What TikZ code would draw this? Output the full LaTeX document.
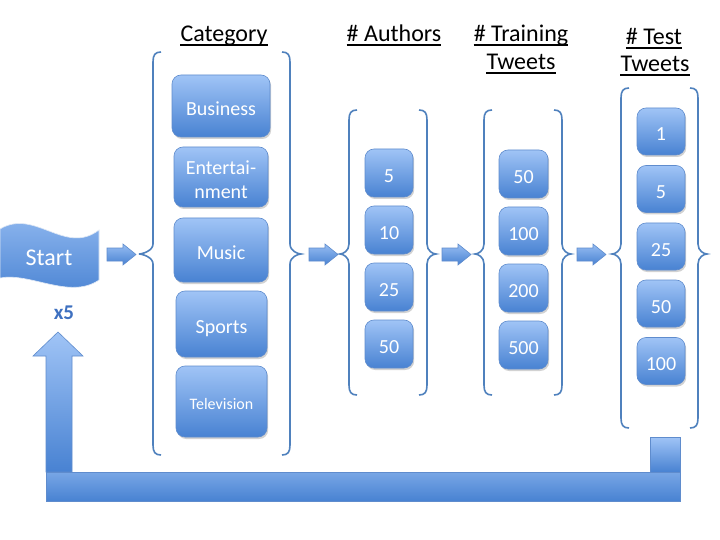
\documentclass[tikz,border=0pt]{standalone}
\usepackage{fontspec}
\setmainfont{Carlito}
\usetikzlibrary{shadows}
\definecolor{boxtop}{RGB}{160,196,246}
\definecolor{boxbot}{RGB}{72,130,210}
\definecolor{boxline}{RGB}{95,140,205}
\definecolor{bracec}{RGB}{79,129,189}
\definecolor{xfive}{RGB}{62,112,192}
\newcommand\mybrL[5]{% L P T B M
  \draw[bracestyle] (#1+8,#3) .. controls (#1+2,#3) and (#1,#3+3) .. (#1,#3+10) -- (#1,#5-10)
    .. controls (#1,#5-3) and (#2+3,#5) .. (#2,#5) .. controls (#2+3,#5) and (#1,#5+3) .. (#1,#5+10)
    -- (#1,#4-10) .. controls (#1,#4-3) and (#1+2,#4) .. (#1+8,#4);}
\newcommand\mybrR[5]{% R Q T B M
  \draw[bracestyle] (#1-8,#3) .. controls (#1-2,#3) and (#1,#3+3) .. (#1,#3+10) -- (#1,#5-10)
    .. controls (#1,#5-3) and (#2-3,#5) .. (#2,#5) .. controls (#2-3,#5) and (#1,#5+3) .. (#1,#5+10)
    -- (#1,#4-10) .. controls (#1,#4-3) and (#1-2,#4) .. (#1-8,#4);}
\newcommand\myarrow[1]{%
  \shade[top color=boxtop!90!boxbot, bottom color=boxbot, draw=boxline, line width=0.6pt]
    (#1,248) -- (#1+16,248) -- (#1+16,244) -- (#1+29,254.5) -- (#1+16,265) -- (#1+16,261) -- (#1,261) -- cycle;}
\newcommand\uline[1]{\draw[line width=1.1pt, black] ([yshift=-3pt]#1.base west) -- ([yshift=-3pt]#1.base east);}
\tikzset{
  bracestyle/.style={draw=bracec, line width=1.6pt},
  boxbase/.style={rounded corners=9pt, top color=boxtop, bottom color=boxbot, draw=boxline, line width=0.6pt,
    text=white, font=\fontsize{20}{24}\selectfont, align=center, inner sep=0pt,
    drop shadow={shadow xshift=1.2pt, shadow yshift=-2pt, opacity=0.35}},
  bluebox/.style={boxbase, text height=19pt, text depth=0pt},
  titlestyle/.style={font=\fontsize{24}{28}\selectfont, inner sep=0pt, text=black, anchor=base},
}
\begin{document}
\begin{tikzpicture}[x=1pt,y=-1pt]
\useasboundingbox[fill=white] (0,0) rectangle (720,540);

% titles
\node[titlestyle] (tcat) at (224,42) {Category};
\node[titlestyle] (taut) at (394,42) {\# Authors};
\node[titlestyle] (ttr1) at (521,42) {\# Training};
\node[titlestyle] (ttr2) at (521,70) {Tweets};
\node[titlestyle] (tte1) at (654,45) {\# Test};
\node[titlestyle] (tte2) at (655,72) {Tweets};
\uline{tcat}\uline{taut}\uline{ttr1}\uline{ttr2}\uline{tte1}\uline{tte2}

% start flag
\shade[top color=boxtop!85!boxbot, bottom color=boxbot, draw=white!80!boxline, line width=0.6pt]
  (0,229) .. controls (35,208) and (65,256) .. (99,230) -- (99,280)
  .. controls (70,300) and (30,272) .. (0,278) -- cycle;
\node[text=white, font=\fontsize{24}{28}\selectfont, inner sep=0pt] (start) at (49,258) {Start};
\node[text=xfive, font=\bfseries\fontsize{21}{24}\selectfont, inner sep=0pt] (x5) at (64,313) {x5};

% small arrows
\myarrow{107}
\myarrow{309}
\myarrow{442}
\myarrow{577}

% braces
\mybrL{153}{139}{52}{455}{254}
\mybrR{290}{301}{52}{455}{254}
\mybrL{349}{340}{110}{395}{254}
\mybrR{427}{436}{110}{395}{254}
\mybrL{484}{475}{110}{395}{254}
\mybrR{562}{571}{110}{395}{254}
\mybrL{621}{612}{88}{428}{254}
\mybrR{698}{707}{88}{428}{254}

% category boxes
\node[bluebox, minimum width=98pt, minimum height=62pt] (bus) at (221,106) {Business};
\node[boxbase, minimum width=94pt, minimum height=60pt] (ent) at (221,177) {\rule{0pt}{20pt}Entertai-\\nment};
\node[bluebox, minimum width=94pt, minimum height=64pt] (mus) at (221,250) {Music};
\node[bluebox, minimum width=91pt, minimum height=66pt] (spo) at (221.5,324) {Sports};
\node[bluebox, minimum width=91pt, minimum height=71pt, font=\fontsize{16}{19}\selectfont, text height=15.5pt] (tel) at (221.5,401.5) {Television};

% authors
\node[bluebox, minimum width=48pt, minimum height=48pt] (a5) at (389,173) {5};
\node[bluebox, minimum width=48pt, minimum height=48pt] (a10) at (389,230) {10};
\node[bluebox, minimum width=48pt, minimum height=48pt] (a25) at (389,287) {25};
\node[bluebox, minimum width=48pt, minimum height=48pt] (a50) at (389,344) {50};

% training
\node[bluebox, minimum width=49pt, minimum height=48pt] (tr50) at (523.5,174) {50};
\node[bluebox, minimum width=49pt, minimum height=48pt] (tr100) at (523.5,231) {100};
\node[bluebox, minimum width=49pt, minimum height=48pt] (tr200) at (523.5,288) {200};
\node[bluebox, minimum width=49pt, minimum height=48pt] (tr500) at (523.5,345) {500};

% test
\node[bluebox, minimum width=48pt, minimum height=47pt] (te1) at (661,131.5) {1};
\node[bluebox, minimum width=48pt, minimum height=47pt] (te5) at (661,189) {5};
\node[bluebox, minimum width=48pt, minimum height=47pt] (te25) at (661,246.5) {25};
\node[bluebox, minimum width=48pt, minimum height=47pt] (te50) at (661,303.5) {50};
\node[bluebox, minimum width=48pt, minimum height=47pt] (te100) at (661,361) {100};

% loop-back arrow
\shade[top color=boxtop, bottom color=boxbot, draw=boxline, line width=0.6pt]
  (46,472) -- (46,356) -- (33,356) -- (58,332) -- (83,356) -- (72,356) -- (72,472) -- cycle;
\shade[top color=boxtop, bottom color=boxbot, draw=boxline, line width=0.6pt]
  (650,472) -- (650,437) -- (680,437) -- (680,472) -- cycle;
\shade[top color=boxtop!55!boxbot, bottom color=boxbot, draw=boxline, line width=0.6pt]
  (46,472) rectangle (680,501);
\end{tikzpicture}
\end{document}
